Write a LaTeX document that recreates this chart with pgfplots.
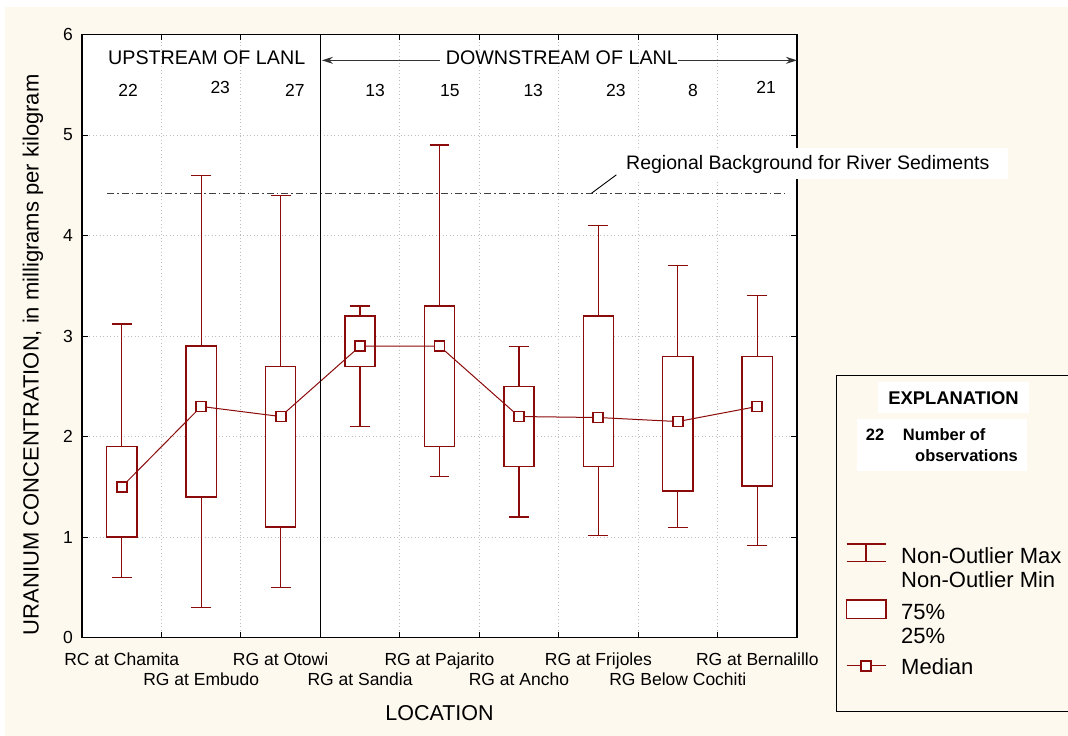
\documentclass[border=0pt]{standalone}
\usepackage{fontspec}
\setmainfont{Liberation Sans}
\usepackage{pgfplots}
\pgfplotsset{compat=1.18}
\usepgfplotslibrary{statistics}
\usetikzlibrary{arrows.meta}
\definecolor{cream}{RGB}{254,249,238}
\definecolor{ured}{RGB}{139,10,10}
\pgfplotsset{
  boxplot/draw direction=y,
  boxplot/every box/.style={draw=ured, fill=white, line width=1.4pt},
  boxplot/every whisker/.style={draw=ured, line width=1.2pt},
  boxplot/draw/median/.code={},
}
\begin{document}
\begin{tikzpicture}[x=1pt,y=1pt]
\useasboundingbox (0,0) rectangle (1068,736);
\fill[white] (0,0) rectangle (1068,736);
\fill[cream] (5,0) rectangle (1068,728.7);
\begin{axis}[
  at={(82pt,98.3pt)}, anchor=south west,
  scale only axis, width=715pt, height=603.2pt,
  xmin=0, xmax=9, ymin=0, ymax=6,
  clip=false,
  axis background/.style={fill=white},
  axis line style={line width=1.1pt},
  xtick={0,1,2,3,4,5,6,7,8,9}, xticklabels={},
  ytick={0,1,2,3,4,5,6},
  xmajorgrids, ymajorgrids,
  grid style={gray!50, line width=0.8pt, dash pattern=on 1pt off 2.5pt},
  major tick length=6pt,
  tick style={black, line width=0.8pt},
  /pgf/number format/assume math mode=true,
  yticklabel style={font=\fontsize{17.5}{20}\selectfont, inner sep=0pt, xshift=-9pt},
  extra x ticks={0.5,1.5,2.5,3.5,4.5,5.5,6.5,7.5,8.5},
  extra x tick labels={{RC at Chamita},{\raisebox{-20pt}{RG at Embudo}},{RG at Otowi},{\raisebox{-20pt}{RG at Sandia}},{RG at Pajarito},{\raisebox{-20pt}{RG at Ancho}},{RG at Frijoles},{\raisebox{-20pt}{RG Below Cochiti}},{RG at Bernalillo}},
  extra x tick style={grid=none, major tick length=0pt},
  xticklabel style={font=\fontsize{17.5}{20}\selectfont, inner sep=0pt, text height=27.3pt, text depth=0pt, anchor=north},
  xlabel={LOCATION},
  xlabel style={at={(rel axis cs:0.5,0)}, anchor=center, yshift=-75.3pt, font=\fontsize{21.5}{24}\selectfont},
  ylabel={URANIUM CONCENTRATION, in milligrams per kilogram},
  ylabel style={at={(rel axis cs:-0.0685,0.469)}, anchor=center, font=\fontsize{22}{24}\selectfont},
]
% box plots: lower whisker, lower quartile, median, upper quartile, upper whisker
\addplot[ured, boxplot prepared={draw position=0.5, lower whisker=0.6, lower quartile=1.0, median=1.5, upper quartile=1.9, upper whisker=3.12, box extend=0.38, whisker extend=0.25}] coordinates {};
\addplot[ured, boxplot prepared={draw position=1.5, lower whisker=0.3, lower quartile=1.4, median=2.3, upper quartile=2.9, upper whisker=4.6, box extend=0.38, whisker extend=0.25}] coordinates {};
\addplot[ured, boxplot prepared={draw position=2.5, lower whisker=0.5, lower quartile=1.1, median=2.2, upper quartile=2.7, upper whisker=4.4, box extend=0.38, whisker extend=0.25}] coordinates {};
\addplot[ured, boxplot prepared={draw position=3.5, lower whisker=2.1, lower quartile=2.7, median=2.9, upper quartile=3.2, upper whisker=3.3, box extend=0.38, whisker extend=0.25}] coordinates {};
\addplot[ured, boxplot prepared={draw position=4.5, lower whisker=1.6, lower quartile=1.9, median=2.9, upper quartile=3.3, upper whisker=4.9, box extend=0.38, whisker extend=0.25}] coordinates {};
\addplot[ured, boxplot prepared={draw position=5.5, lower whisker=1.2, lower quartile=1.7, median=2.2, upper quartile=2.5, upper whisker=2.9, box extend=0.38, whisker extend=0.25}] coordinates {};
\addplot[ured, boxplot prepared={draw position=6.5, lower whisker=1.02, lower quartile=1.7, median=2.19, upper quartile=3.2, upper whisker=4.1, box extend=0.38, whisker extend=0.25}] coordinates {};
\addplot[ured, boxplot prepared={draw position=7.5, lower whisker=1.1, lower quartile=1.46, median=2.15, upper quartile=2.8, upper whisker=3.7, box extend=0.38, whisker extend=0.25}] coordinates {};
\addplot[ured, boxplot prepared={draw position=8.5, lower whisker=0.92, lower quartile=1.51, median=2.3, upper quartile=2.8, upper whisker=3.4, box extend=0.38, whisker extend=0.25}] coordinates {};
% medians
\addplot[ured, line width=1pt, mark=square*, mark size=5pt, mark options={fill=white, line width=1.8pt}] coordinates {
(0.5,1.5) (1.5,2.3) (2.5,2.2) (3.5,2.9) (4.5,2.9) (5.5,2.2) (6.5,2.19) (7.5,2.15) (8.5,2.3)};
% regional background
\addplot[black!75, line width=1pt, dash pattern=on 7pt off 3pt on 1.5pt off 3pt] coordinates {(0.32,4.42) (8.85,4.42)};
% separator
\draw[black, line width=1.1pt] (axis cs:3,0) -- (axis cs:3,6);
% region titles and arrows
\node[anchor=base, font=\fontsize{19.7}{22}\selectfont, inner sep=0pt] at (axis cs:1.57,5.699) {UPSTREAM OF LANL};
\node[anchor=base, font=\fontsize{19.7}{22}\selectfont, inner sep=0pt] at (axis cs:6.04,5.699) {DOWNSTREAM OF LANL};
\draw[black!80, line width=1pt, -{Stealth[length=11pt,width=7pt]}] (axis cs:4.5,5.743) -- (axis cs:3.02,5.743);
\draw[black!80, line width=1pt, -{Stealth[length=11pt,width=7pt]}] (axis cs:7.50,5.743) -- (axis cs:9,5.743);
% counts
\begin{scope}[every node/.style={font=\fontsize{17.5}{20}\selectfont}]
\node at (axis cs:0.58,5.44) {22};
\node at (axis cs:1.74,5.47) {23};
\node at (axis cs:2.68,5.44) {27};
\node at (axis cs:3.69,5.44) {13};
\node at (axis cs:4.63,5.44) {15};
\node at (axis cs:5.68,5.44) {13};
\node at (axis cs:6.72,5.44) {23};
\node at (axis cs:7.69,5.44) {8};
\node at (axis cs:8.61,5.47) {21};
\end{scope}
% regional background label
\fill[white] (axis cs:6.71,4.564) rectangle (axis cs:11.657,4.873);
\node[anchor=base west, inner sep=0pt, font=\fontsize{19.5}{22}\selectfont] at (axis cs:6.848,4.654) {Regional Background for River Sediments};
\draw[black, line width=0.9pt] (axis cs:6.415,4.422) -- (axis cs:6.726,4.604);
\end{axis}
% explanation box
\draw[black, line width=1pt] (836.7,24.3) rectangle (1075,360.3);
\fill[white] (877.7,322.7) rectangle (1029.3,354.3);
\node[anchor=base, inner sep=0pt, font=\fontsize{18.4}{20}\selectfont\bfseries] at (953.5,331.7) {EXPLANATION};
\fill[white] (857,265.3) rectangle (1027,317);
\node[anchor=base, inner sep=0pt, font=\fontsize{16.5}{18}\selectfont\bfseries] at (875,295.3) {22};
\node[anchor=base west, inner sep=0pt, font=\fontsize{16.5}{18}\selectfont\bfseries] at (902.7,295.3) {Number of};
\node[anchor=base west, inner sep=0pt, font=\fontsize{16.5}{18}\selectfont\bfseries] at (915,274.3) {observations};
% legend glyphs
\draw[ured, line width=1.2pt] (846.7,192) -- (886,192) (846.7,174.3) -- (886,174.3) (866,174.3) -- (866,192);
\draw[ured, line width=1.4pt, fill=white] (846.7,117.7) rectangle (886,136);
\draw[ured, line width=1pt] (846.7,70.3) -- (886,70.3);
\draw[ured, line width=1.8pt, fill=white] (861,65.3) rectangle (871,75.3);
\begin{scope}[every node/.style={anchor=base west, inner sep=0pt, font=\fontsize{22}{24}\selectfont}]
\node at (901,172.7) {Non-Outlier Max};
\node at (901,148.7) {Non-Outlier Min};
\node at (901,116.7) {75\%};
\node at (901,92.7) {25\%};
\node at (901,61) {Median};
\end{scope}
\end{tikzpicture}
\end{document}
